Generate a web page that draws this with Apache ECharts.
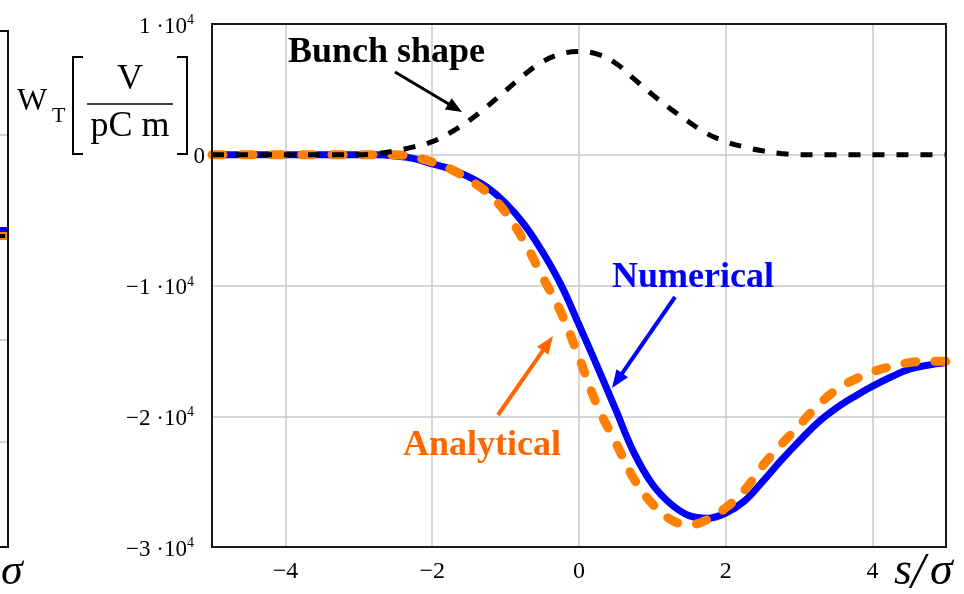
<!DOCTYPE html>
<html><head><meta charset="utf-8">
<script src="https://cdn.jsdelivr.net/npm/echarts@6/dist/echarts.min.js"></script>
<style>html,body{margin:0;padding:0;background:#fff}#c{width:964px;height:594px}</style>
</head><body><div id="c"></div>
<script>
// s / sigma positions
const sValues = [-5,-4.75,-4.5,-4.25,-4,-3.75,-3.5,-3.25,-3,-2.75,-2.5,-2.25,-2,-1.75,-1.5,-1.25,-1,-0.75,-0.5,-0.25,0,0.25,0.5,0.75,1,1.25,1.5,1.75,2,2.25,2.5,2.75,3,3.25,3.5,3.75,4,4.25,4.5,4.75,5];
// W_T [V/(pC m)]
const numerical = [0,0,0,0,0,0,0,0,0,0,-100,-300,-700,-1100,-1700,-2500,-3700,-5300,-7400,-9900,-13000,-16200,-19500,-22800,-25200,-26700,-27600,-27800,-27400,-26500,-25000,-23400,-21900,-20500,-19400,-18500,-17700,-17000,-16400,-16100,-15900];
const analytical = [0,0,0,0,0,0,0,0,0,0,0,-200,-550,-1100,-1900,-2900,-4400,-6600,-9300,-12000,-15500,-19200,-22000,-24800,-26700,-27900,-28300,-27900,-27000,-25700,-23800,-22200,-20700,-19200,-18000,-17200,-16600,-16200,-15900,-15800,-15800];
const bunchShape = [0,0,0,0,0,0,0,0,0,100,300,600,1000,1700,2600,3700,4900,6100,7100,7700,7900,7700,7000,5800,4600,3500,2500,1600,1000,600,300,100,0,0,0,0,0,0,0,0,0];
const xTickValues = [-4,-2,0,2,4];
const xTickLabels = ['−4','−2','0','2','4'];
const yTickMin = -30000, yTickMax = 10000, yTickStep = 10000;

const chart = echarts.init(document.getElementById('c'), null, {renderer:'canvas'});
const pairs = arr => sValues.map((s,i)=>[s,arr[i]]);
const SERIF = "'Liberation Serif','Times New Roman',serif";

function arrow(x1,y1,x2,y2,color,w,hl,hw){
  const dx=x2-x1, dy=y2-y1, L=Math.hypot(dx,dy), ux=dx/L, uy=dy/L;
  const bx=x2-ux*hl, by=y2-uy*hl, px=-uy, py=ux;
  return [
    {type:'line', shape:{x1:x1,y1:y1,x2:bx+ux*2,y2:by+uy*2}, style:{stroke:color,lineWidth:w}, z:100},
    {type:'polygon', shape:{points:[[x2,y2],[bx+px*hw/2,by+py*hw/2],[bx-px*hw/2,by-py*hw/2]]}, style:{fill:color}, z:100}
  ];
}
function txt(x,y,text,font,color,align){
  return {type:'text', x:x, y:y, z:100, style:{text:text, font:font, fill:color||'#000', align:align||'left', verticalAlign:'middle'}};
}

const graphics = [
  // fragment of neighbouring panel at left edge
  {type:'line', shape:{x1:0,y1:135,x2:7,y2:135}, style:{stroke:'#c8c8c8',lineWidth:1.5}},
  {type:'line', shape:{x1:0,y1:340,x2:7,y2:340}, style:{stroke:'#c8c8c8',lineWidth:1.5}},
  {type:'line', shape:{x1:0,y1:442,x2:7,y2:442}, style:{stroke:'#c8c8c8',lineWidth:1.5}},
  {type:'rect', shape:{x:0,y:227,width:7,height:6}, style:{fill:'#0000ff'}},
  {type:'rect', shape:{x:0,y:232,width:7,height:8}, style:{fill:'#ff8000'}},
  {type:'rect', shape:{x:0,y:234,width:5,height:4}, style:{fill:'#000'}},
  {type:'polyline', shape:{points:[[0,31],[8,31],[8,547],[0,547]]}, style:{stroke:'#111',lineWidth:2,fill:null}},
  txt(1,572,'σ','italic 44px '+SERIF),
  // plot frame on top of grid lines
  {type:'rect', z:50, shape:{x:212,y:24,width:734,height:523}, style:{stroke:'#1a1a1a',lineWidth:2,fill:null}},
  // y axis name
  txt(17,102,'W','32px '+SERIF),
  txt(52,116,'T','22px '+SERIF),
  {type:'polyline', shape:{points:[[83,57],[73,57],[73,154],[83,154]]}, style:{stroke:'#000',lineWidth:2,fill:null}},
  {type:'polyline', shape:{points:[[177,57],[187,57],[187,154],[177,154]]}, style:{stroke:'#000',lineWidth:2,fill:null}},
  txt(130,80,'V','36px '+SERIF,'#000','center'),
  {type:'line', shape:{x1:87,y1:104,x2:173,y2:104}, style:{stroke:'#000',lineWidth:1.5}},
  txt(130,127,'pC m','36px '+SERIF,'#000','center'),
  // x axis name
  txt(894,572,'s','italic 46px '+SERIF),
  txt(911,574,'/','italic 50px '+SERIF),
  txt(930,572,'σ','italic 46px '+SERIF),
  // annotations
  txt(288,53,'Bunch shape','bold 36px '+SERIF,'#000'),
  txt(612,278,'Numerical','bold 36px '+SERIF,'#0000ff'),
  txt(403,446,'Analytical','bold 36px '+SERIF,'#ff6600')
].concat(
  arrow(395,72,462,112,'#000',3,16,13),
  arrow(675,297,612,388,'#0000ff',4,18,14),
  arrow(498,415,553,336,'#ff6600',4,18,14)
);

chart.setOption({
  animation:false,
  backgroundColor:'#fff',
  grid:{left:212,right:18,top:24,bottom:47,show:false},
  xAxis:{type:'value',min:-5,max:5,splitNumber:5,
    axisLine:{show:false},axisTick:{show:false},
    splitLine:{show:true,lineStyle:{color:'#c8c8c8',width:1.5}},
    axisLabel:{showMinLabel:false,showMaxLabel:false,margin:13,fontFamily:SERIF,fontSize:24,color:'#000',
      formatter:v=>{const i=xTickValues.indexOf(v);return i<0?'':xTickLabels[i];}}},
  yAxis:{type:'value',min:yTickMin,max:yTickMax,interval:yTickStep,
    axisLine:{show:false},axisTick:{show:false},
    splitLine:{show:true,lineStyle:{color:'#c8c8c8',width:1.5}},
    axisLabel:{margin:7,padding:[5,0,0,0],
      formatter:v=>v===0?'{z|0}':'{m|'+(v<0?'−':'')+Math.abs(v/10000)+' ·10}{e|4}',
      rich:{
        z:{fontFamily:SERIF,fontSize:23,color:'#000'},
        m:{fontFamily:SERIF,fontSize:23,color:'#000',lineHeight:26},
        e:{fontFamily:SERIF,fontSize:14,color:'#000',verticalAlign:'top',lineHeight:26,padding:[0,11,0,0]}
      }}},
  series:[
    {type:'line',name:'Numerical',data:pairs(numerical),symbol:'none',smooth:0.4,lineStyle:{color:'#0000ff',width:7},z:2},
    {type:'line',name:'Analytical',data:pairs(analytical),symbol:'none',smooth:0.4,lineStyle:{color:'#ff8000',width:9,type:[11,19],cap:'round'},z:3},
    {type:'line',name:'Bunch shape',data:pairs(bunchShape),symbol:'none',smooth:0.4,lineStyle:{color:'#000',width:5,type:[12,12]},z:4}
  ],
  graphic:graphics
});
</script></body></html>
